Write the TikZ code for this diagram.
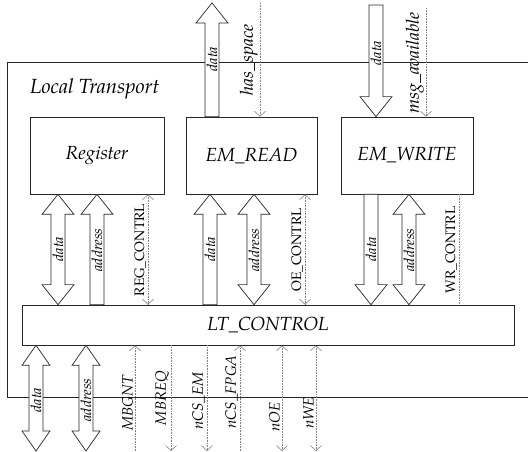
\documentclass[tikz,border=0pt]{standalone}
\usepackage{fontspec}
\setmainfont{TeX Gyre Pagella}
\usetikzlibrary{arrows.meta,calc}

% geometry of the hollow bus arrows
\def\sw{7}    % half shaft width
\def\hw{16}   % half head width
\def\hl{20}   % head length

% bus with heads at both ends; #2 upper end, #3 lower end
\newcommand\busBoth[3]{%
  \draw[bus] let \p1=(#2), \p2=(#3) in
    (#1,\y1) -- (#1+\hw,\y1-\hl) -- (#1+\sw,\y1-\hl) -- (#1+\sw,\y2+\hl)
    -- (#1+\hw,\y2+\hl) -- (#1,\y2) -- (#1-\hw,\y2+\hl) -- (#1-\sw,\y2+\hl)
    -- (#1-\sw,\y1-\hl) -- (#1-\hw,\y1-\hl) -- cycle;}
% bus pointing up (head at upper end #2)
\newcommand\busUp[3]{%
  \draw[bus] let \p1=(#2), \p2=(#3) in
    (#1,\y1) -- (#1+\hw,\y1-\hl) -- (#1+\sw,\y1-\hl) -- (#1+\sw,\y2)
    -- (#1-\sw,\y2) -- (#1-\sw,\y1-\hl) -- (#1-\hw,\y1-\hl) -- cycle;}
% bus pointing down (head at lower end #3)
\newcommand\busDown[3]{%
  \draw[bus] let \p1=(#2), \p2=(#3) in
    (#1-\sw,\y1) -- (#1+\sw,\y1) -- (#1+\sw,\y2+\hl) -- (#1+\hw,\y2+\hl)
    -- (#1,\y2) -- (#1-\hw,\y2+\hl) -- (#1-\sw,\y2+\hl) -- cycle;}
% dotted control signal between the heights of #3 and #4
\newcommand\sigline[4]{%
  \draw[sig,#1] let \p1=(#3), \p2=(#4) in (#2,\y1) -- (#2,\y2);}

\begin{document}
\begin{tikzpicture}[x=1pt,y=1pt,
  blk/.style={draw=black!85, line width=0.7pt, inner sep=0pt,
    font=\fontsize{19}{22}\selectfont\itshape},
  bus/.style={draw=black!85, line width=0.7pt, fill=white},
  sig/.style={draw=black!50, densely dotted, line width=0.6pt,
    >={Straight Barb[length=5pt,width=11pt]}},
  buslbl/.style={rotate=90, inner sep=0pt,
    font=\fontsize{14.5}{16}\selectfont\itshape},
  siglbl/.style={rotate=90, anchor=south, inner sep=1pt,
    font=\fontsize{15}{17}\selectfont\itshape},
  toplbl/.style={siglbl, font=\fontsize{18}{20}\selectfont\itshape},
  ctllbl/.style={siglbl, font=\fontsize{13.7}{16}\selectfont\upshape},
]
\useasboundingbox (0,0) rectangle (528,452);

% outer frame of the transport block (open to the right)
\draw[black!85, line width=0.8pt] (528,390) -- (7,390) -- (7,55) -- (528,55);
\node[anchor=west, inner sep=0pt, font=\fontsize{20.5}{24}\selectfont\itshape]
  (title) at (30,363) {Local Transport};

% functional blocks
\node[blk, minimum width=134pt, minimum height=77pt] (reg) at (97,296.5) {Register};
\node[blk, minimum width=131pt, minimum height=77pt] (emr) at (251.5,296.5) {EM\_READ};
\node[blk, minimum width=132pt, minimum height=77pt] (emw) at (407,296.5) {EM\_WRITE};
\node[blk, minimum width=492pt, minimum height=40pt] (lt) at (268,127) {LT\_CONTROL};

% free ends of the external connections
\coordinate (rdTop) at (212,449);
\coordinate (wdTop) at (376,447);
\coordinate (hsTop) at (260,449);
\coordinate (maTop) at (426,444);
\coordinate (base)  at (0,1);

% control signals
\sigline{->}{260}{hsTop}{emr.north}
\sigline{->}{426}{maTop}{emw.north}
\sigline{<->}{148}{reg.south}{lt.north}
\sigline{<->}{305}{emr.south}{lt.north}
\sigline{-}{459}{emw.south}{lt.north}
\sigline{->}{135}{base}{lt.south}
\sigline{->}{171}{lt.south}{base}
\sigline{->}{207}{lt.south}{base}
\sigline{->}{240}{base}{lt.south}
\sigline{<->}{282}{lt.south}{base}
\sigline{<->}{316}{lt.south}{base}

% data and address buses
\busBoth{58}{reg.south}{lt.north}
\busUp{97}{reg.south}{lt.north}
\busUp{210}{emr.south}{lt.north}
\busBoth{254}{emr.south}{lt.north}
\busDown{371}{emw.south}{lt.north}
\busBoth{409}{emw.south}{lt.north}
\busUp{212}{rdTop}{emr.north}
\busDown{376}{wdTop}{emw.north}
\def\hw{14}
\busBoth{36}{lt.south}{base}
\busBoth{86}{lt.south}{base}

% bus labels
\node[buslbl] (l1) at (58,203) {data};
\node[buslbl] (l2) at (97,202) {address};
\node[buslbl] (l3) at (210,203) {data};
\node[buslbl] (l4) at (254,202) {address};
\node[buslbl] (l5) at (371,203) {data};
\node[buslbl] (l6) at (409,202) {address};
\node[buslbl] (l7) at (212,393) {data};
\node[buslbl] (l8) at (376,399) {data};
\node[buslbl] (l9) at (36,52) {data};
\node[buslbl] (l10) at (86,52) {address};

% signal labels
\node[toplbl] (s1) at (259,392) {has\_space};
\node[toplbl] (s2) at (425,389) {msg\_available};
\node[ctllbl] (s3) at (147,202) {REG\_CONTRL};
\node[ctllbl] (s4) at (304,202) {OE\_CONTRL};
\node[ctllbl] (s5) at (458,202) {WR\_CONTRL};
\node[siglbl] (s6) at (134,49) {MBGNT};
\node[siglbl] (s7) at (170,54) {MBREQ};
\node[siglbl] (s8) at (206,51) {nCS\_EM};
\node[siglbl] (s9) at (239,60) {nCS\_FPGA};
\node[siglbl] (s10) at (281,35) {nOE};
\node[siglbl] (s11) at (315,39) {nWE};
\end{tikzpicture}
\end{document}
